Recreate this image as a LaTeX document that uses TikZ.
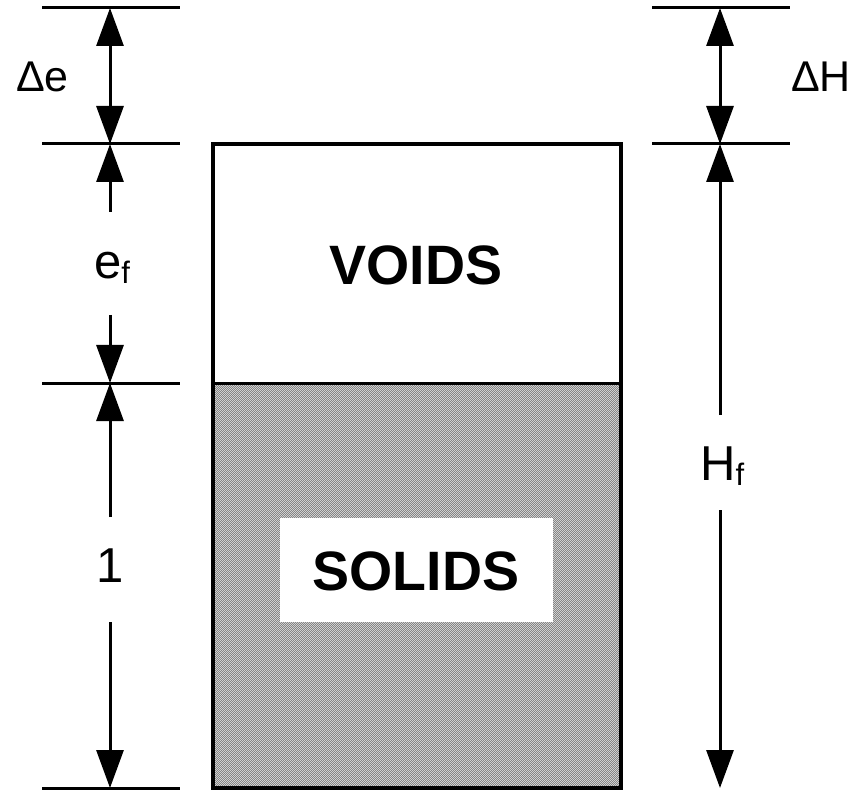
\documentclass[tikz,border=0pt]{standalone}
\usepackage{fontspec}
\setmainfont{Liberation Sans}
\usetikzlibrary{arrows.meta,patterns.meta}
\tikzdeclarepattern{name=finehatch,type=uncolored,
  bounding box={(0,0) and (2.2pt,2.2pt)},tile size={(2.2pt,2.2pt)},
  code={\draw[line width=0.55pt] (-0.5pt,-0.5pt) -- (2.7pt,2.7pt);}}
\tikzset{
  hline/.style={line width=3pt},
  dim/.style={line width=3pt,arrows={-Triangle[length=38pt,width=27pt]}},
  dimboth/.style={line width=3pt,arrows={Triangle[length=38pt,width=27pt]-Triangle[length=38pt,width=27pt]}},
  biglbl/.style={font=\fontsize{55.5}{60}\selectfont\bfseries,inner sep=0pt},
  dlbl/.style={font=\fontsize{43}{48}\selectfont,inner sep=0pt},
  mlbl/.style={font=\fontsize{49}{54}\selectfont,inner sep=0pt},
}
\newcommand{\subf}{\raisebox{-5pt}{\fontsize{31}{31}\selectfont f}}
\begin{document}
\begin{tikzpicture}[x=1pt,y=-1pt]
\useasboundingbox (0,0) rectangle (867,791);
% box
\coordinate (TL) at (213,144);
\coordinate (MR) at (621,383);
\coordinate (ML) at (213,383);
\coordinate (BR) at (621,788);
\fill[white] (TL) rectangle (MR);
\fill[gray!30] (ML) rectangle (BR);
\fill[pattern=finehatch,pattern color=black!55] (ML) rectangle (BR);
\draw[line width=3.5pt] (TL) rectangle (BR);
\draw[line width=3pt] (ML) -- (MR);
\node[fill=white,minimum width=273pt,minimum height=104pt,inner sep=0pt] (solbox) at (416.5,570) {};
\node[biglbl,anchor=base] (voids) at (416,285) {VOIDS};
\node[biglbl,anchor=base] (solids) at (416,590) {SOLIDS};
% left lines
\foreach \n/\y in {a/8,b/144,c/383,d/788}{
  \coordinate (La\n) at (42,\y);
  \coordinate (Lb\n) at (180,\y);
  \coordinate (Lx\n) at (110,\y);
  \draw[hline] (La\n) -- (Lb\n);
}
% right lines
\foreach \n/\y in {a/8,b/144}{
  \coordinate (Ra\n) at (652,\y);
  \coordinate (Rb\n) at (790,\y);
  \coordinate (Rx\n) at (720,\y);
  \draw[hline] (Ra\n) -- (Rb\n);
}
\coordinate (Rxd) at (720,788);
% labels
\node[dlbl,anchor=base west] (de) at (16,92) {Δe};
\node[dlbl,anchor=base west] (dH) at (791,92) {ΔH};
\node[mlbl,anchor=base west] (ef) at (94,279) {e\subf};
\node[mlbl,anchor=base] (one) at (110,582) {1};
\node[mlbl,anchor=base west] (Hf) at (700,480) {H\subf};
% left dimension arrows
\coordinate (e1) at (110,212);
\coordinate (e2) at (110,315);
\coordinate (o1) at (110,517);
\coordinate (o2) at (110,622);
\draw[dimboth] (Lxa) -- (Lxb);
\draw[dim] (e1) -- (Lxb);
\draw[dim] (e2) -- (Lxc);
\draw[dim] (o1) -- (Lxc);
\draw[dim] (o2) -- (Lxd);
% right dimension arrows
\coordinate (h1) at (720,415);
\coordinate (h2) at (720,510);
\draw[dimboth] (Rxa) -- (Rxb);
\draw[dim] (h1) -- (Rxb);
\draw[dim] (h2) -- (Rxd);
\end{tikzpicture}
\end{document}
